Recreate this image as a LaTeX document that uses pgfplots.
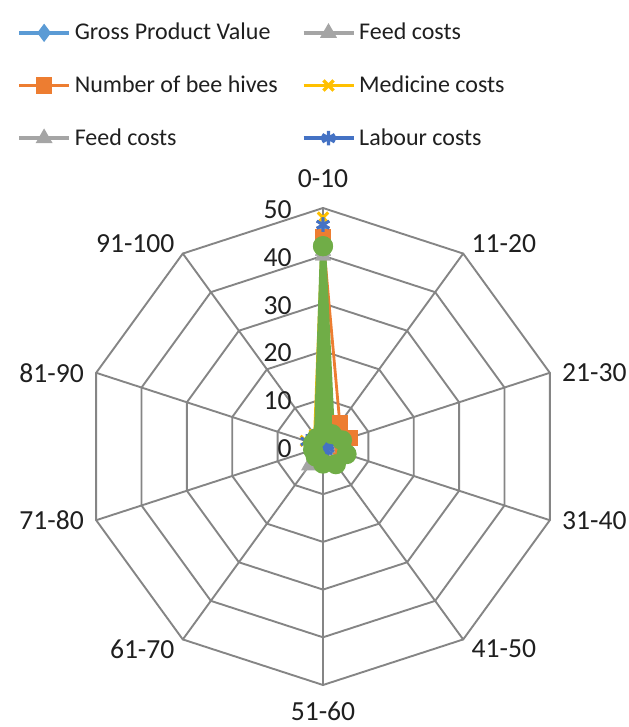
\documentclass[border=0pt]{standalone}
\usepackage{pgfplots}
\pgfplotsset{compat=1.18}
\usepgfplotslibrary{polar}
\usepackage{fontspec}
\setmainfont{Carlito}
\definecolor{cGPV}{HTML}{5B9BD5}
\definecolor{cFeed}{HTML}{A5A5A5}
\definecolor{cBee}{HTML}{ED7D31}
\definecolor{cMed}{HTML}{FFC000}
\definecolor{cLab}{HTML}{4472C4}
\definecolor{cGrn}{HTML}{70AD47}
\definecolor{cGrid}{HTML}{858585}
\definecolor{cTxt}{HTML}{1F1F1F}
\begin{document}
\begin{tikzpicture}[x=1pt,y=1pt]
\useasboundingbox (-161.5,-140.25) rectangle (152.5,223.25);
\begin{polaraxis}[
  at={(0,0)}, anchor=center,
  scale only axis, width=238.5pt, height=238.5pt,
  xmin=0, xmax=360, ymin=0, ymax=50,
  hide axis, clip=false,
  font=\fontsize{13.8}{16}\selectfont,
  legend columns=2,
  legend cell align=left,
  legend style={at={(axis description cs:-0.1415,1.397)}, anchor=north west,
    draw=none, fill=none, inner sep=0pt, text=cTxt,
    font=\fontsize{12}{14}\selectfont, row sep=12.5pt,
    /tikz/every even column/.append style={column sep=10pt}},
  legend image code/.code={\draw[line width=1.7pt, mark repeat=2,mark phase=2] plot coordinates {(0pt,0pt)(12.5pt,0pt)(25pt,0pt)};},
]
% grid rings
\addplot[cGrid, line width=0.95pt, forget plot] coordinates {(90,10)(54,10)(18,10)(342,10)(306,10)(270,10)(234,10)(198,10)(162,10)(126,10)(90,10)};
\addplot[cGrid, line width=0.95pt, forget plot] coordinates {(90,20)(54,20)(18,20)(342,20)(306,20)(270,20)(234,20)(198,20)(162,20)(126,20)(90,20)};
\addplot[cGrid, line width=0.95pt, forget plot] coordinates {(90,30)(54,30)(18,30)(342,30)(306,30)(270,30)(234,30)(198,30)(162,30)(126,30)(90,30)};
\addplot[cGrid, line width=0.95pt, forget plot] coordinates {(90,40)(54,40)(18,40)(342,40)(306,40)(270,40)(234,40)(198,40)(162,40)(126,40)(90,40)};
\addplot[cGrid, line width=0.95pt, forget plot] coordinates {(90,50)(54,50)(18,50)(342,50)(306,50)(270,50)(234,50)(198,50)(162,50)(126,50)(90,50)};
% spokes
\addplot[cGrid, line width=0.95pt, forget plot] coordinates {(90,0)(90,50)};
\addplot[cGrid, line width=0.95pt, forget plot] coordinates {(54,0)(54,50)};
\addplot[cGrid, line width=0.95pt, forget plot] coordinates {(18,0)(18,50)};
\addplot[cGrid, line width=0.95pt, forget plot] coordinates {(342,0)(342,50)};
\addplot[cGrid, line width=0.95pt, forget plot] coordinates {(306,0)(306,50)};
\addplot[cGrid, line width=0.95pt, forget plot] coordinates {(270,0)(270,50)};
\addplot[cGrid, line width=0.95pt, forget plot] coordinates {(234,0)(234,50)};
\addplot[cGrid, line width=0.95pt, forget plot] coordinates {(198,0)(198,50)};
\addplot[cGrid, line width=0.95pt, forget plot] coordinates {(162,0)(162,50)};
\addplot[cGrid, line width=0.95pt, forget plot] coordinates {(126,0)(126,50)};

% series
\addplot[cGPV, line width=1.4pt, mark=diamond*, mark size=3.2pt, mark options={fill=cGPV, solid}]
  coordinates {(90,45)(54,2)(18,3)(342,3)(306,2)(270,1.5)(234,1)(198,1)(162,1.5)(126,1.5)(90,45)};
\addlegendentry{Gross Product Value}
\addplot[cFeed, line width=1.4pt, mark=triangle*, mark size=3.2pt, mark options={fill=cFeed, solid}]
  coordinates {(90,41)(54,1)(18,1)(342,1)(306,1)(270,1)(234,5)(198,1)(162,1)(126,1)(90,41)};
\addlegendentry{Feed costs}
\addplot[cBee, line width=1.4pt, mark=square*, mark size=3.3pt, mark options={fill=cBee, solid}]
  coordinates {(90,44)(54,6)(18,6)(342,3)(306,2)(270,1)(234,1)(198,1)(162,1)(126,1)(90,44)};
\addlegendentry{Number of bee hives}
\addplot[cMed, line width=1.4pt, mark=x, mark size=3.6pt, mark options={solid}]
  coordinates {(90,48)(54,1)(18,1)(342,1)(306,1)(270,1)(234,1)(198,1)(162,3.8)(126,3)(90,48)};
\addlegendentry{Medicine costs}
\addplot[cFeed, line width=1.4pt, mark=triangle*, mark size=3.2pt, mark options={fill=cFeed, solid}]
  coordinates {(90,40)(54,1)(18,1)(342,1)(306,1)(270,1)(234,4.5)(198,1)(162,1)(126,1)(90,40)};
\addlegendentry{Feed costs}
\addplot[cLab, line width=1.4pt, mark=asterisk, mark size=3.6pt, mark options={solid}]
  coordinates {(90,46.5)(54,1)(18,1)(342,1)(306,1)(270,1)(234,1)(198,1.5)(162,3.5)(126,1)(90,46.5)};
\addlegendentry{Labour costs}
\addplot[cGrn, line width=3pt, fill=cGrn, mark=*, mark size=3.5pt, mark options={fill=cGrn, solid}, forget plot]
  coordinates {(90,42)(54,3.2)(18,4.2)(342,5.2)(306,4.6)(270,3.6)(234,2.6)(198,2.2)(162,2.2)(126,2.2)(90,42)};

% radial labels
\pgfplotsinvokeforeach{0,10,20,30,40,50}{
  \node[anchor=east, xshift=-15.5pt, yshift=-1pt, text=cTxt, inner sep=0pt] at (axis cs:90,#1) {#1};
}
% category labels
\node[anchor=south, yshift=10pt, inner sep=0pt, text=cTxt] at (axis cs:90,50) {0-10};
\node[anchor=south west, xshift=4pt, inner sep=0pt, text=cTxt] at (axis cs:54,50) {11-20};
\node[anchor=west, xshift=6pt, inner sep=0pt, text=cTxt] at (axis cs:18,50) {21-30};
\node[anchor=west, xshift=6pt, inner sep=0pt, text=cTxt] at (axis cs:342,50) {31-40};
\node[anchor=north west, xshift=4pt, inner sep=0pt, text=cTxt] at (axis cs:306,50) {41-50};
\node[anchor=north, yshift=-8pt, inner sep=0pt, text=cTxt] at (axis cs:270,50) {51-60};
\node[anchor=north east, xshift=-4pt, inner sep=0pt, text=cTxt] at (axis cs:234,50) {61-70};
\node[anchor=east, xshift=-6pt, inner sep=0pt, text=cTxt] at (axis cs:198,50) {71-80};
\node[anchor=east, xshift=-6pt, inner sep=0pt, text=cTxt] at (axis cs:162,50) {81-90};
\node[anchor=south east, xshift=-4pt, inner sep=0pt, text=cTxt] at (axis cs:126,50) {91-100};
\end{polaraxis}
\end{tikzpicture}
\end{document}
